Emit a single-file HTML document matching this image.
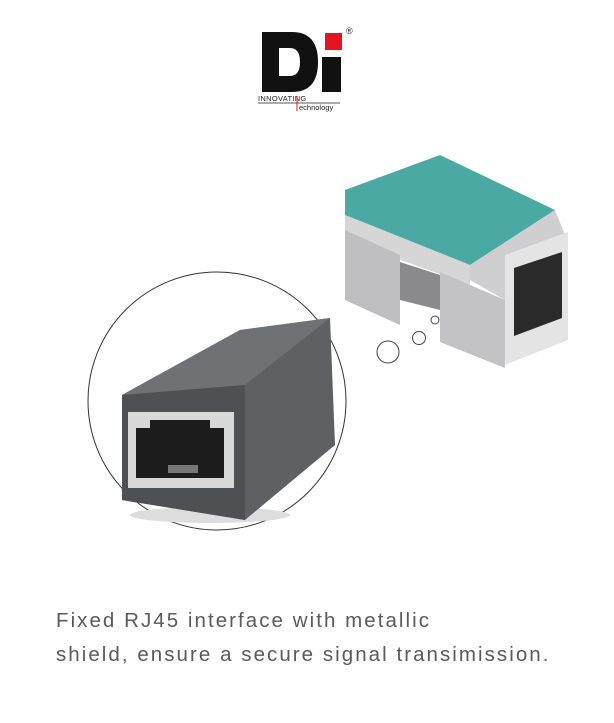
<!DOCTYPE html>
<html><head><meta charset="utf-8"><style>
html,body{margin:0;padding:0;background:#fff;}
body{width:614px;height:723px;overflow:hidden;position:relative;font-family:"Liberation Sans",sans-serif;}
.t{position:absolute;left:56px;font-size:20.5px;color:#5a5a5a;letter-spacing:2.05px;white-space:nowrap;}
</style></head><body>
<svg width="614" height="723" style="position:absolute;left:0;top:0">
<path d="M262 32 H292 Q318 32 318 62 Q318 92 292 92 H262 Z M279 48 V76 H290 Q300 76 300 62 Q300 48 290 48 Z" fill="#111" fill-rule="evenodd"/>
<rect x="322" y="57" width="19" height="35" fill="#111"/>
<rect x="325" y="33" width="17" height="17" fill="#e8141b"/>
<text x="346" y="34" font-size="9" fill="#222">®</text>
<text x="258" y="101" font-size="7.5" fill="#222" letter-spacing="0.3">INNOVATING</text>
<line x1="258" y1="103" x2="340" y2="103" stroke="#222" stroke-width="0.7"/>
<line x1="297" y1="96" x2="297" y2="111" stroke="#e8141b" stroke-width="1"/>
<text x="299" y="110" font-size="7.5" fill="#222">echnology</text>
<circle cx="217" cy="401" r="129" fill="#fff" stroke="#333" stroke-width="1"/>
<circle cx="435" cy="320" r="4" fill="none" stroke="#444" stroke-width="1"/>
<circle cx="419" cy="338" r="6.5" fill="none" stroke="#444" stroke-width="1"/>
<circle cx="388" cy="352" r="11" fill="none" stroke="#444" stroke-width="1"/>
<ellipse cx="210" cy="515" rx="80" ry="8" fill="#ddd"/>
<polygon points="122,395 240,330 330,318 335,445 245,520 122,500" fill="#5e6063"/>
<polygon points="122,395 240,330 330,318 245,385" fill="#6f7174"/>
<polygon points="122,395 245,385 245,520 122,500" fill="#4e5053"/>
<rect x="128" y="412" width="106" height="76" fill="#d8d8d8"/>
<rect x="136" y="428" width="88" height="50" fill="#1c1c1c"/>
<rect x="150" y="420" width="60" height="12" fill="#1c1c1c"/>
<rect x="168" y="465" width="30" height="8" fill="#777"/>
<polygon points="345,190 440,155 555,210 470,265 345,215" fill="#4aa9a2"/>
<polygon points="345,215 470,265 470,285 345,240" fill="#d6d6d6"/>
<polygon points="345,230 400,255 400,325 345,300" fill="#bfbfc1"/>
<polygon points="400,262 440,275 440,310 400,300" fill="#8a8a8c"/>
<polygon points="440,272 505,300 505,368 440,342" fill="#c3c3c5"/>
<polygon points="470,265 555,210 565,235 505,300 470,280" fill="#cfcfd1"/>
<polygon points="505,255 568,232 568,340 505,365" fill="#e4e4e4"/>
<polygon points="514,268 562,252 562,318 514,336" fill="#2a2a2a"/>
</svg>
<div class="t" style="top:609px">Fixed RJ45 interface with metallic</div>
<div class="t" style="top:643px">shield, ensure a secure signal transimission.</div>
</body></html>
